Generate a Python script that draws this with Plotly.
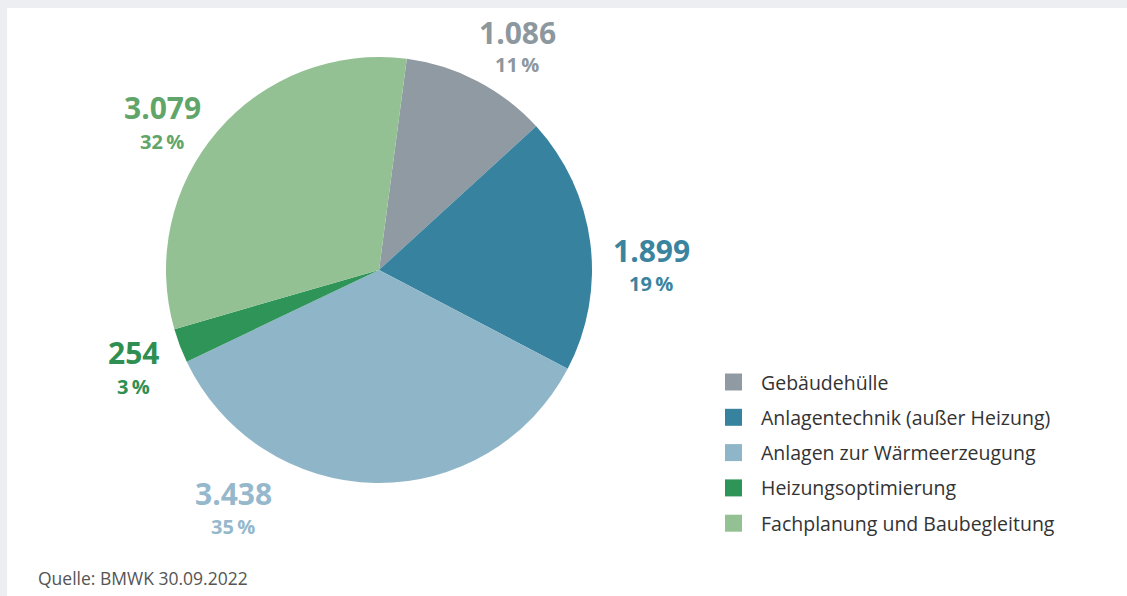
import plotly.graph_objects as go

W, H = 1127, 596

# ---- data ----
categories = ["Gebäudehülle", "Anlagentechnik (außer Heizung)", "Anlagen zur Wärmeerzeugung",
              "Heizungsoptimierung", "Fachplanung und Baubegleitung"]
values = [1086, 1899, 3438, 254, 3079]
colors = ["#8f9aa2", "#36829f", "#8fb5c9", "#2e9458", "#94c193"]
label_colors = ["#8d979e", "#3a84a0", "#95b8cc", "#2f8f53", "#62a56a"]
source_text = "Quelle: BMWK 30.09.2022"

# ---- layout helpers (pixels) ----
cx, cy, R = 379, 270, 213
label_pos = [(517, 32), (651, 250), (233, 493), (133, 353), (162, 108)]  # value-label centers
FONT = "Open Sans"

def px(x):
    return x / W

def py(y):
    return 1 - y / H

total = sum(values)

fig = go.Figure()
fig.add_trace(go.Pie(
    labels=categories,
    values=values,
    marker=dict(colors=colors, line=dict(width=0)),
    sort=False,
    direction="clockwise",
    rotation=7.5,
    textinfo="none",
    hoverinfo="label+value+percent",
    showlegend=False,
    domain=dict(x=[px(cx - R), px(cx + R)], y=[py(cy + R), py(cy - R)]),
))

shapes = [
    dict(type="rect", xref="paper", yref="paper", x0=px(7), x1=1, y0=0, y1=py(8),
         fillcolor="white", line=dict(width=0), layer="below"),
]
annotations = []

for i, (v, c) in enumerate(zip(values, label_colors)):
    x, y = label_pos[i]
    vtxt = f"{v:,}".replace(",", ".")
    ptxt = f"{round(100 * v / total)}\u2009%"
    annotations.append(dict(x=px(x), y=py(y), xref="paper", yref="paper", text=vtxt,
                            showarrow=False, xanchor="center", yanchor="middle",
                            font=dict(family=FONT, size=30, color=c, weight=700)))
    annotations.append(dict(x=px(x), y=py(y + 33), xref="paper", yref="paper", text=ptxt,
                            showarrow=False, xanchor="center", yanchor="middle",
                            font=dict(family=FONT, size=20, color=c, weight=700)))

# manual legend
leg_x, leg_y0, leg_dy = 725, 382, 35.3
for i, (lab, c) in enumerate(zip(categories, colors)):
    y = leg_y0 + i * leg_dy
    shapes.append(dict(type="rect", xref="paper", yref="paper",
                       x0=px(leg_x), x1=px(leg_x + 17), y0=py(y + 8.5), y1=py(y - 8.5),
                       fillcolor=c, line=dict(width=0)))
    annotations.append(dict(x=px(leg_x + 34), y=py(y), xref="paper", yref="paper", text=lab,
                            showarrow=False, xanchor="left", yanchor="middle",
                            font=dict(family=FONT, size=19.5, color="#333333")))

annotations.append(dict(x=px(36), y=py(578), xref="paper", yref="paper", text=source_text,
                        showarrow=False, xanchor="left", yanchor="middle",
                        font=dict(family=FONT, size=17.5, color="#555555")))

fig.update_layout(
    width=W, height=H,
    margin=dict(l=0, r=0, t=0, b=0),
    paper_bgcolor="#eceef2",
    plot_bgcolor="white",
    shapes=shapes,
    annotations=annotations,
    showlegend=False,
)

fig.write_html(
    "out.html",
    config={"displayModeBar": False},
    post_script="document.body.style.margin='0';document.body.style.overflow='hidden';",
)
